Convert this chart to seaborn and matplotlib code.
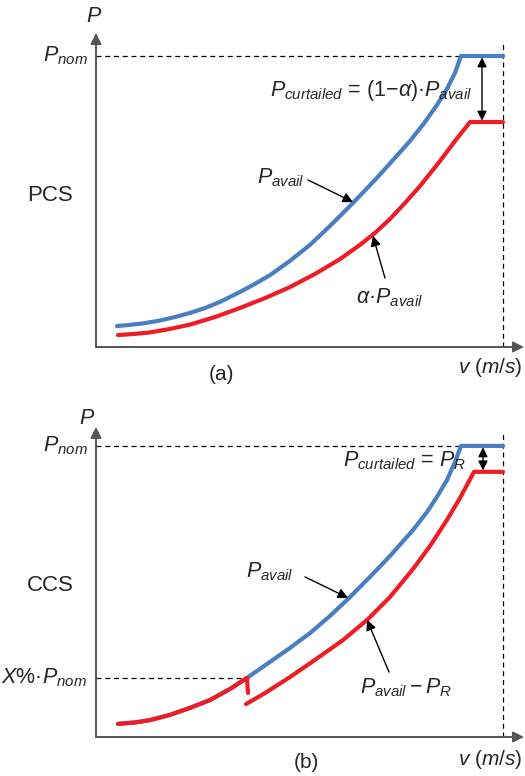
import matplotlib
matplotlib.use("Agg")
import matplotlib.pyplot as plt
import seaborn as sns
import pandas as pd

# Wind speed v (m/s) and power P (per unit of P_nom) along each curve
P_NOM = 1.0
V_CUTOUT = 25.0

# (a) proportional curtailment strategy
v_avail_a = [1.290, 2.088, 3.010, 3.931, 4.853, 5.774, 6.695, 7.617, 8.845, 9.767, 10.688, 11.916,
             13.145, 14.373, 15.786, 17.138, 18.366, 19.287, 20.209, 20.946, 21.560, 22.052, 22.420, 25.0]
p_avail_a = [0.072, 0.076, 0.082, 0.091, 0.103, 0.117, 0.134, 0.155, 0.189, 0.217, 0.247, 0.296,
             0.351, 0.416, 0.495, 0.574, 0.650, 0.708, 0.773, 0.832, 0.887, 0.942, 1.0, 1.0]
v_pcs = [1.351, 2.396, 3.317, 4.545, 5.774, 7.310, 8.845, 10.381, 11.916, 13.452, 14.988, 16.216,
         17.138, 18.059, 18.980, 19.902, 21.130, 22.052, 22.973, 25.0]
p_pcs = [0.041, 0.045, 0.050, 0.062, 0.077, 0.103, 0.134, 0.168, 0.206, 0.251, 0.302, 0.351,
         0.392, 0.440, 0.495, 0.553, 0.639, 0.708, 0.773, 0.773]

# (b) constant curtailment strategy
X_LEVEL = 0.203
v_avail_b = [1.351, 2.396, 3.317, 4.545, 5.774, 7.002, 8.231, 9.275, 10.688, 11.916, 13.145, 14.373,
             15.479, 16.830, 18.059, 19.472, 20.332, 20.946, 21.560, 22.052, 22.420, 25.0]
p_avail_b = [0.045, 0.050, 0.058, 0.076, 0.100, 0.127, 0.165, 0.203, 0.258, 0.306, 0.357, 0.416,
             0.474, 0.550, 0.622, 0.711, 0.773, 0.825, 0.883, 0.945, 1.0, 1.0]
v_ccs_low = [1.351, 2.396, 3.317, 4.545, 5.774, 7.002, 8.231, 9.275, 9.337]
p_ccs_low = [0.045, 0.050, 0.058, 0.076, 0.100, 0.127, 0.165, 0.203, 0.151]
v_ccs_high = [9.214, 10.381, 11.916, 13.452, 15.172, 16.708, 18.059, 19.472, 20.516, 21.560,
              22.359, 23.219, 25.0]
p_ccs_high = [0.113, 0.151, 0.206, 0.265, 0.333, 0.405, 0.481, 0.577, 0.656, 0.746,
              0.821, 0.911, 0.911]

BLUE = "#4a7ec2"
RED = "#ee1d25"
AXIS_GRAY = "#555555"

sns.set_style("white")
plt.rcParams["font.family"] = ["Liberation Sans", "DejaVu Sans"]
plt.rcParams["mathtext.fontset"] = "custom"
plt.rcParams["mathtext.rm"] = "Liberation Sans"
plt.rcParams["mathtext.it"] = "Liberation Sans:italic"
plt.rcParams["mathtext.bf"] = "Liberation Sans:bold"

W, H = 525, 776
fig = plt.figure(figsize=(W / 100, H / 100), dpi=100)

XMAX = 26.29
ax_a = fig.add_axes([96 / W, (H - 347) / H, 428 / W, 314 / H])
ax_b = fig.add_axes([96 / W, (H - 737) / H, 428 / W, 310 / H])
ax_a.set_xlim(0, XMAX)
ax_a.set_ylim(0, 1.079)
ax_b.set_xlim(0, XMAX)
ax_b.set_ylim(0, 1.065)

FS = 15.5
FS_CAP = 15


def frame(ax):
    ax.axis("off")
    arrow = dict(arrowstyle="-|>", color=AXIS_GRAY, lw=1.4, mutation_scale=16,
                 shrinkA=0, shrinkB=0)
    ax.annotate("", xy=(1, 0), xytext=(0, 0), xycoords="axes fraction",
                arrowprops=arrow, annotation_clip=False)
    ax.annotate("", xy=(0, 1), xytext=(0, 0), xycoords="axes fraction",
                arrowprops=arrow, annotation_clip=False)
    ax.plot([0, V_CUTOUT], [P_NOM, P_NOM], color="black", lw=0.9,
            ls=(0, (4, 3)), zorder=1)
    ax.plot([V_CUTOUT, V_CUTOUT], [0, 1.045], color="black", lw=0.9,
            ls=(0, (4, 3)), zorder=1)


def curve(ax, v, p, color):
    df = pd.DataFrame({"v": v, "P": p})
    sns.lineplot(data=df, x="v", y="P", ax=ax, color=color, lw=3.0,
                 sort=False, estimator=None, solid_capstyle="round",
                 solid_joinstyle="round", zorder=3)


def pointer(ax, tail, tip):
    ax.annotate("", xy=tip, xytext=tail,
                arrowprops=dict(arrowstyle="-|>", color="black", lw=1.0,
                                mutation_scale=15, shrinkA=0, shrinkB=0),
                annotation_clip=False)


def double_arrow(ax, v, p_top, p_bot):
    ax.annotate("", xy=(v, p_bot), xytext=(v, p_top),
                arrowprops=dict(arrowstyle="<|-|>", color="black", lw=1.0,
                                mutation_scale=14, shrinkA=1, shrinkB=1),
                annotation_clip=False)


# ---------- (a) PCS ----------
frame(ax_a)
curve(ax_a, v_avail_a, p_avail_a, BLUE)
curve(ax_a, v_pcs, p_pcs, RED)
double_arrow(ax_a, 23.71, P_NOM, p_pcs[-1])
ax_a.text(-0.12, 1.137, r"$P$", fontsize=FS, ha="center", va="center", clip_on=False)
ax_a.text(-0.49, 1.0, r"$P_{nom}$", fontsize=FS, ha="right", va="center", clip_on=False)
ax_a.text(-2.83, 0.522, "PCS", fontsize=16, ha="center", va="center", clip_on=False)
ax_a.text(10.69, 0.880, r"$P_{curtailed}$ = $(1{-}\alpha)$·$P_{avail}$", fontsize=FS,
          ha="left", va="center")
ax_a.text(9.89, 0.581, r"$P_{avail}$", fontsize=FS, ha="left", va="center")
pointer(ax_a, (13.02, 0.574), (15.79, 0.498))
ax_a.text(15.97, 0.168, r"$\alpha$·$P_{avail}$", fontsize=FS, ha="left", va="center")
pointer(ax_a, (17.75, 0.237), (17.01, 0.382))
ax_a.text(7.68, -0.093, "(a)", fontsize=FS_CAP, ha="center", va="center", clip_on=False)
ax_a.text(26.2, -0.072, r"$v\ (m/s)$", fontsize=FS_CAP, ha="right", va="center", clip_on=False)

# ---------- (b) CCS ----------
frame(ax_b)
curve(ax_b, v_avail_b, p_avail_b, BLUE)
curve(ax_b, v_ccs_low, p_ccs_low, RED)
curve(ax_b, v_ccs_high, p_ccs_high, RED)
ax_b.plot([0, v_ccs_low[-2]], [X_LEVEL, X_LEVEL], color="black", lw=0.9,
          ls=(0, (4, 3)), zorder=1)
double_arrow(ax_b, 23.77, P_NOM, p_ccs_high[-1])
ax_b.text(-0.55, 1.093, r"$P$", fontsize=FS, ha="center", va="center", clip_on=False)
ax_b.text(-0.49, 1.0, r"$P_{nom}$", fontsize=FS, ha="right", va="center", clip_on=False)
ax_b.text(-2.83, 0.522, "CCS", fontsize=16, ha="center", va="center", clip_on=False)
ax_b.text(15.17, 0.948, r"$P_{curtailed}$ = $P_R$", fontsize=FS, ha="left", va="center")
ax_b.text(9.21, 0.567, r"$P_{avail}$", fontsize=FS, ha="left", va="center")
pointer(ax_b, (12.84, 0.550), (15.48, 0.478))
ax_b.text(16.22, 0.168, r"$P_{avail}-P_R$", fontsize=FS, ha="left", va="center")
pointer(ax_b, (18.0, 0.223), (16.65, 0.402))
ax_b.text(-0.55, X_LEVEL, r"$X\%$·$P_{nom}$", fontsize=FS, ha="right", va="center",
          clip_on=False)
ax_b.text(12.90, -0.089, "(b)", fontsize=FS_CAP, ha="center", va="center", clip_on=False)
ax_b.text(26.2, -0.079, r"$v\ (m/s)$", fontsize=FS_CAP, ha="right", va="center", clip_on=False)

fig.savefig("out.png", dpi=100)
